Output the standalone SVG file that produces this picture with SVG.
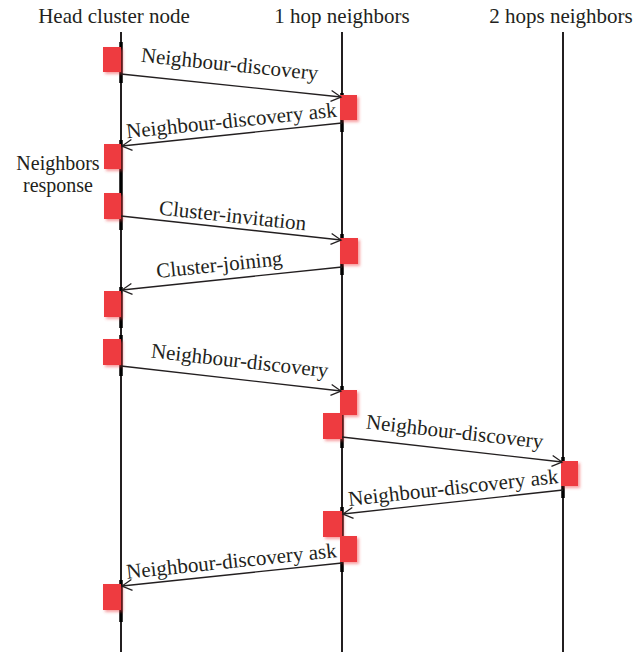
<svg xmlns="http://www.w3.org/2000/svg" width="644" height="652" viewBox="0 0 644 652">
<style>
text{font-family:"Liberation Serif","DejaVu Serif",serif;fill:#231f20;font-size:21px}
.side{font-size:20px}
.life{stroke:#231f20;stroke-width:2;fill:none}
.act{stroke:#000;stroke-width:3.5;fill:none}
.box{fill:#ee3a3f;filter:url(#sh)}
.msg{stroke:#231f20;stroke-width:1.3;fill:none;marker-end:url(#ah)}
</style>
<defs>
<filter id="sh" x="-30%" y="-30%" width="160%" height="160%">
<feGaussianBlur in="SourceAlpha" stdDeviation="1.5" result="b"/>
<feOffset in="b" dx="1.5" dy="1.5" result="o"/>
<feFlood flood-color="#ee3a3f" flood-opacity="0.5"/>
<feComposite in2="o" operator="in" result="s"/>
<feMerge><feMergeNode in="s"/><feMergeNode in="SourceGraphic"/></feMerge>
</filter>
<marker id="ah" markerUnits="userSpaceOnUse" markerWidth="14" markerHeight="14" viewBox="0 0 14 14" refX="12" refY="7" orient="auto">
<path d="M2,1.5 L12,7 L2,12.5" fill="none" stroke="#231f20" stroke-width="1.3"/>
</marker>
</defs>
<g id="headers">
<text x="114" y="23" text-anchor="middle">Head cluster node</text>
<text x="342" y="23" text-anchor="middle">1 hop neighbors</text>
<text x="561" y="23" text-anchor="middle">2 hops neighbors</text>
</g>
<g id="lifelines">
<line class="life" x1="121" y1="32" x2="121" y2="652"/>
<line class="life" x1="342" y1="32" x2="342" y2="652"/>
<line class="life" x1="563" y1="32" x2="563" y2="652"/>
<line class="act" x1="121" y1="42" x2="121" y2="83"/>
<line class="act" x1="342" y1="93" x2="342" y2="132"/>
<line class="act" x1="121" y1="140" x2="121" y2="230"/>
<line class="act" x1="342" y1="234" x2="342" y2="275"/>
<line class="act" x1="121" y1="287" x2="121" y2="328"/>
<line class="act" x1="121" y1="335" x2="121" y2="376"/>
<line class="act" x1="342" y1="386" x2="342" y2="448"/>
<line class="act" x1="563" y1="457" x2="563" y2="498"/>
<line class="act" x1="342" y1="507" x2="342" y2="572"/>
<line class="act" x1="121" y1="580" x2="121" y2="622"/>
</g>
<g id="nodes">
<rect id="n1" class="box" x="103" y="47" width="18" height="25"/>
<rect id="n2" class="box" x="340" y="95" width="17" height="25"/>
<rect id="n3" class="box" x="104" y="144" width="17" height="25"/>
<rect id="n4" class="box" x="104" y="193" width="17" height="26"/>
<rect id="n5" class="box" x="340" y="238" width="18" height="26"/>
<rect id="n6" class="box" x="104" y="291" width="17" height="26"/>
<rect id="n7" class="box" x="103" y="339" width="18" height="26"/>
<rect id="n8" class="box" x="340" y="390" width="17" height="25"/>
<rect id="n9" class="box" x="323" y="413" width="19" height="26"/>
<rect id="n10" class="box" x="561" y="461" width="17" height="25"/>
<rect id="n11" class="box" x="323" y="511" width="19" height="26"/>
<rect id="n12" class="box" x="340" y="536" width="17" height="26"/>
<rect id="n13" class="box" x="103" y="584" width="18" height="26"/>
</g>
<g id="connectors">
<line class="msg" x1="121" y1="74" x2="341" y2="97"/>
<line class="msg" x1="342" y1="123" x2="122" y2="146"/>
<line class="msg" x1="121" y1="216" x2="341" y2="240"/>
<line class="msg" x1="342" y1="267" x2="122" y2="290"/>
<line class="msg" x1="121" y1="366" x2="341" y2="391"/>
<line class="msg" x1="342" y1="437" x2="562" y2="462"/>
<line class="msg" x1="563" y1="490" x2="343" y2="514"/>
<line class="msg" x1="342" y1="563" x2="122" y2="586"/>
</g>
<g id="labels">
<text transform="translate(229,71) rotate(5.9)" text-anchor="middle">Neighbour-discovery</text>
<text transform="translate(232,127.5) rotate(-5.9)" text-anchor="middle">Neighbour-discovery ask</text>
<text class="side" x="58" y="170" text-anchor="middle">Neighbors</text>
<text class="side" x="58" y="192" text-anchor="middle">response</text>
<text transform="translate(232,222.5) rotate(6.2)" text-anchor="middle">Cluster-invitation</text>
<text transform="translate(220,271.5) rotate(-5.9)" text-anchor="middle">Cluster-joining</text>
<text transform="translate(239,367.5) rotate(6.4)" text-anchor="middle">Neighbour-discovery</text>
<text transform="translate(454,438.5) rotate(6.4)" text-anchor="middle">Neighbour-discovery</text>
<text transform="translate(454,494.5) rotate(-6.2)" text-anchor="middle">Neighbour-discovery ask</text>
<text transform="translate(232,568) rotate(-5.9)" text-anchor="middle">Neighbour-discovery ask</text>
</g>
</svg>
